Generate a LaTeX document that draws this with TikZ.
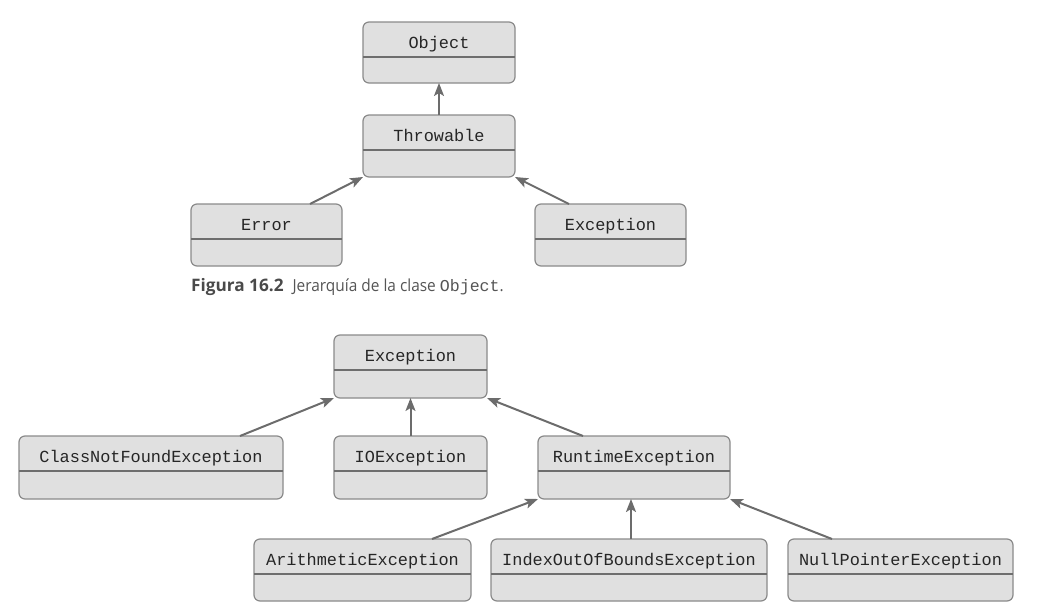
\documentclass[tikz,border=0pt]{standalone}
\usepackage{fontspec}
\setmonofont{Liberation Mono}
\newfontfamily\capfont{Open Sans}
\newfontfamily\capfontn[FakeStretch=0.93]{Open Sans}
\usetikzlibrary{arrows.meta,calc}
\definecolor{boxfill}{HTML}{E0E0E0}
\definecolor{boxline}{HTML}{8A8A8A}
\definecolor{divline}{HTML}{6E6E6E}
\definecolor{arrcol}{HTML}{6C6C6C}
\definecolor{captxt}{HTML}{4A4A4A}
\definecolor{capgray}{HTML}{555555}
\tikzset{
  x=1pt, y=-1pt,
  umlbox/.style={draw=boxline, fill=boxfill, line width=1.2pt, rounded corners=6pt, inner sep=0pt},
  divider/.style={draw=divline, line width=1.1pt},
  clsname/.style={font=\ttfamily\fontsize{16.9}{18}\selectfont, text=black!85, anchor=base, inner sep=0pt},
  inh/.style={draw=arrcol, line width=2pt, -{Stealth[length=13pt,width=10pt,inset=3pt]}},
}
% \umlclass{name}{x1}{y1}{x2}{y2}{text}
\newcommand{\umlclass}[6]{%
  \path[umlbox] (#2,#3) rectangle (#4,#5);
  \coordinate (#1-nw) at (#2,#3);
  \coordinate (#1-se) at (#4,#5);
  \node[minimum width=#4pt-#2pt, minimum height=#5pt-#3pt, inner sep=0pt, outer sep=0pt] (#1) at ($(#1-nw)!0.5!(#1-se)$) {};
  \draw[divider] ($(#1.north west)+(0,35)$) -- ($(#1.north east)+(0,35)$);
  \node[clsname] (#1-t) at ($(#1.north)+(0,26.5)$) {#6};
}
\begin{document}
\begin{tikzpicture}
\useasboundingbox (0,0) rectangle (1042,613);
% figure 16.2
\umlclass{obj}{363}{22}{515}{83}{Object}
\umlclass{thr}{363}{115}{515}{177}{Throwable}
\umlclass{err}{191}{204}{342}{266}{Error}
\umlclass{exc}{535}{204}{686}{266}{Exception}
\draw[inh] (thr.north) -- (obj.south);
\draw[inh] ([xshift=-32pt]err.north east) -- (thr.south west);
\draw[inh] ([xshift=34pt]exc.north west) -- (thr.south east);
\node[anchor=base west, inner sep=0pt] (cap) at (191,291)
  {{\capfont\bfseries\fontsize{17.2}{18}\selectfont\color{captxt}Figura 16.2}\hspace{9pt}{\capfontn\fontsize{16.6}{18}\selectfont\color{capgray}Jerarquía de la clase {\ttfamily\fontsize{16.6}{18}\selectfont Object}.}};
% figure 16.3
\umlclass{exc2}{334}{335}{487}{398}{Exception}
\umlclass{cnf}{19}{436}{283}{499}{ClassNotFoundException}
\umlclass{ioe}{334}{436}{487}{499}{IOException}
\umlclass{rte}{538}{436}{730}{499}{RuntimeException}
\umlclass{ari}{254}{539}{471}{601}{ArithmeticException}
\umlclass{iob}{491}{539}{767}{601}{IndexOutOfBoundsException}
\umlclass{npe}{788}{539}{1013}{601}{NullPointerException}
\draw[inh] ([xshift=-43pt]cnf.north east) -- (exc2.south west);
\draw[inh] (ioe.north) -- (exc2.south);
\draw[inh] ([xshift=45pt]rte.north west) -- (exc2.south east);
\draw[inh] ([xshift=-39pt]ari.north east) -- (rte.south west);
\draw[inh] ([xshift=2pt]iob.north) -- ([xshift=2pt]iob.north |- rte.south);
\draw[inh] ([xshift=44pt]npe.north west) -- (rte.south east);
\end{tikzpicture}
\end{document}
